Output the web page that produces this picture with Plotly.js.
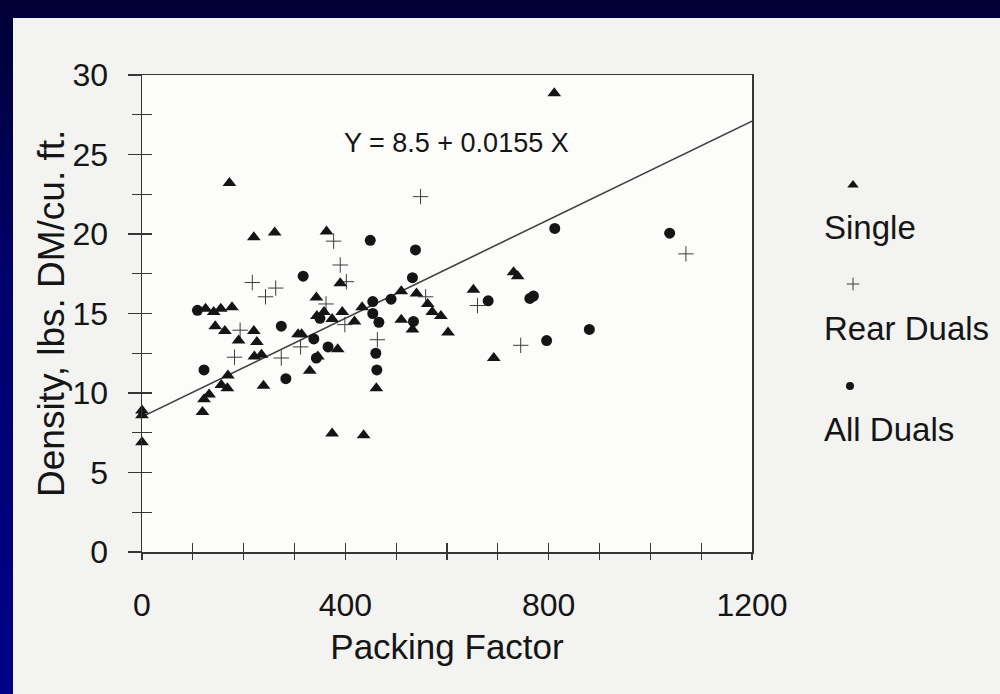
<!DOCTYPE html>
<html>
<head>
<meta charset="utf-8">
<script src="https://cdn.plot.ly/plotly-3.0.1.min.js"></script>
<style>
  html, body { margin: 0; padding: 0; }
  body {
    width: 1000px; height: 694px; overflow: hidden; position: relative;
    background: linear-gradient(to bottom, #000034 0%, #00006c 40%, #000088 100%);
  }
  #sheet {
    position: absolute; left: 13px; top: 18px; width: 987px; height: 676px;
    background: #f3f3f1;
  }
  #chart { position: absolute; left: 0; top: 0; width: 1000px; height: 694px; }
</style>
</head>
<body>
<div id="sheet"></div>
<div id="chart"></div>
<script>
// Packing factor vs. silage density, by tractor wheel configuration
const singleX = [0, 0, 0, 119, 122, 132, 125, 141, 155, 177, 172, 144, 163, 190, 220, 226,
  221, 235, 169, 156, 168, 239, 220, 261, 363, 390, 343, 358, 344, 374, 394, 433, 418,
  307, 314, 385, 346, 330, 461, 374, 436, 510, 540, 562, 571, 588, 510, 532, 602,
  652, 692, 731, 739, 811];
const singleY = [8.9, 8.6, 6.9, 8.8, 9.6, 9.9, 15.3, 15.1, 15.3, 15.4, 23.2, 14.2, 13.9, 13.3, 13.9, 13.2,
  12.3, 12.4, 11.1, 10.5, 10.3, 10.45, 19.8, 20.1, 20.15, 16.9, 16.0, 15.1, 14.85, 14.65, 15.1, 15.4, 14.5,
  13.7, 13.7, 12.75, 12.3, 11.4, 10.3, 7.45, 7.35, 16.4, 16.25, 15.6, 15.1, 14.85, 14.6, 14.0, 13.8,
  16.5, 12.2, 17.6, 17.35, 28.85];

const rearX = [217, 243, 263, 193, 182, 274, 312, 377, 390, 402, 362, 399, 463,
  548, 558, 660, 745, 1070];
const rearY = [16.95, 16.05, 16.6, 13.95, 12.25, 12.2, 12.9, 19.55, 18.05, 17.0, 15.6, 14.3, 13.35,
  22.35, 16.05, 15.5, 13.0, 18.75];

const allX = [109, 122, 274, 283, 317, 338, 343, 366, 350, 449, 454, 454, 466, 460, 462,
  490, 538, 532, 534, 681, 763, 770, 796, 812, 880, 1038];
const allY = [15.2, 11.45, 14.2, 10.9, 17.35, 13.4, 12.2, 12.9, 14.7, 19.6, 15.75, 15.0, 14.45, 12.5, 11.45,
  15.9, 19.0, 17.25, 14.5, 15.8, 15.95, 16.1, 13.3, 20.35, 14.0, 20.05];

const seriesNames = ['Single', 'Rear Duals', 'All Duals'];
const xTitle = 'Packing Factor';
const yTitle = 'Density, lbs. DM/cu. ft.';

// Fitted regression line
const intercept = 8.5;
const slope = 0.0155;
const fitX = [0, 1200];
const fitY = fitX.map(x => intercept + slope * x);

const ink = '#151515';
const axisInk = '#363636';
const font = '"Liberation Sans", Arial, sans-serif';

const symSingle = { symbol: 'triangle-up', size: 12, color: ink };
const symRear = { symbol: 'cross-thin', size: 11, color: axisInk, line: { width: 1, color: '#3c3c3c' } };
const symAll = { symbol: 'circle', size: 11, color: ink };

const keySingle = { symbol: 'triangle-up', size: 10, color: ink };
const keyRear = { symbol: 'cross-thin', size: 9, color: axisInk, line: { width: 1, color: '#3c3c3c' } };
const keyAll = { symbol: 'circle', size: 8, color: ink };

const traces = [
  { x: fitX, y: fitY, mode: 'lines', line: { color: '#404040', width: 1.6 }, hoverinfo: 'skip', showlegend: false },
  { x: rearX, y: rearY, name: seriesNames[1], mode: 'markers', marker: symRear, cliponaxis: false, showlegend: false },
  { x: singleX, y: singleY, name: seriesNames[0], mode: 'markers', marker: symSingle, cliponaxis: false, showlegend: false },
  { x: allX, y: allY, name: seriesNames[2], mode: 'markers', marker: symAll, cliponaxis: false, showlegend: false },
  // overlay pair carrying the inward half of the crossing ticks
  { x: [], y: [], xaxis: 'x3', yaxis: 'y3', showlegend: false },
  // key symbols, placed on a page-pixel overlay
  { x: [853], y: [185], xaxis: 'x2', yaxis: 'y2', mode: 'markers', marker: keySingle, cliponaxis: false, showlegend: false, hoverinfo: 'skip' },
  { x: [853], y: [284], xaxis: 'x2', yaxis: 'y2', mode: 'markers', marker: keyRear, cliponaxis: false, showlegend: false, hoverinfo: 'skip' },
  { x: [850], y: [386], xaxis: 'x2', yaxis: 'y2', mode: 'markers', marker: keyAll, cliponaxis: false, showlegend: false, hoverinfo: 'skip' }
];

const W = 1000, H = 694;
const plotL = 142, plotR = 752, plotT = 75, plotB = 552;
const xDom = [plotL / W, plotR / W];
const yDom = [(H - plotB) / H, (H - plotT) / H];

const layout = {
  width: W, height: H,
  margin: { l: 0, r: 0, t: 0, b: 0, pad: 0 },
  paper_bgcolor: 'rgba(0,0,0,0)',
  plot_bgcolor: 'rgba(0,0,0,0)',
  font: { family: font, color: ink },
  showlegend: false,
  xaxis: {
    domain: xDom, range: [0, 1200], anchor: 'y',
    tickmode: 'linear', tick0: 0, dtick: 400,
    ticks: 'outside', ticklen: 6, tickwidth: 1.3, tickcolor: axisInk,
    minor: { dtick: 100, tick0: 0, ticks: 'outside', ticklen: 6, tickwidth: 1.3, tickcolor: axisInk },
    showline: true, linecolor: axisInk, linewidth: 1.5, mirror: true,
    showgrid: false, zeroline: false,
    tickfont: { size: 32, family: font, color: ink },
    ticklabelstandoff: 18,
    title: { text: xTitle, font: { size: 35, family: font, color: ink }, standoff: 12 }
  },
  yaxis: {
    domain: yDom, range: [0, 30], anchor: 'x',
    tickmode: 'linear', tick0: 0, dtick: 5,
    ticks: 'outside', ticklen: 13, tickwidth: 1.3, tickcolor: axisInk,
    minor: { dtick: 2.5, tick0: 0, ticks: 'outside', ticklen: 9, tickwidth: 1.3, tickcolor: axisInk },
    showline: true, linecolor: axisInk, linewidth: 1.5, mirror: true,
    showgrid: false, zeroline: false,
    tickfont: { size: 32, family: font, color: ink },
    ticklabelstandoff: 13
  },
  xaxis3: {
    overlaying: 'x', anchor: 'y3', range: [0, 1200],
    tickmode: 'linear', tick0: 0, dtick: 100,
    ticks: 'inside', ticklen: 9, tickwidth: 1.3, tickcolor: axisInk,
    showticklabels: false, showline: false, showgrid: false, zeroline: false
  },
  yaxis3: {
    overlaying: 'y', anchor: 'x3', range: [0, 30],
    tickmode: 'linear', tick0: 0, dtick: 2.5,
    ticks: 'inside', ticklen: 10, tickwidth: 1.3, tickcolor: axisInk,
    showticklabels: false, showline: false, showgrid: false, zeroline: false
  },
  xaxis2: { domain: [0, 1], range: [0, W], anchor: 'y2', visible: false, fixedrange: true },
  yaxis2: { domain: [0, 1], range: [H, 0], anchor: 'x2', visible: false, fixedrange: true },
  shapes: [
    { type: 'rect', xref: 'x domain', yref: 'y domain', x0: 0, x1: 1, y0: 0, y1: 1,
      fillcolor: '#fcfcfb', line: { width: 0 }, layer: 'below' }
  ],
  annotations: [
    // vertical axis title
    { xref: 'x2', yref: 'y2', x: 51, y: 314, xanchor: 'center', yanchor: 'middle', showarrow: false,
      textangle: -90, text: yTitle, font: { size: 37, family: font, color: ink } },
    { xref: 'x2', yref: 'y2', x: 456, y: 143, xanchor: 'center', yanchor: 'middle', showarrow: false,
      text: `Y = ${intercept} + ${slope} X`, font: { size: 27, family: font, color: ink } },
    { xref: 'x2', yref: 'y2', x: 822, y: 227, xanchor: 'left', yanchor: 'middle', showarrow: false,
      text: seriesNames[0], font: { size: 33, family: font, color: ink } },
    { xref: 'x2', yref: 'y2', x: 822, y: 328, xanchor: 'left', yanchor: 'middle', showarrow: false,
      text: seriesNames[1], font: { size: 33, family: font, color: ink } },
    { xref: 'x2', yref: 'y2', x: 822, y: 429, xanchor: 'left', yanchor: 'middle', showarrow: false,
      text: seriesNames[2], font: { size: 33, family: font, color: ink } }
  ]
};

Plotly.newPlot('chart', traces, layout, { staticPlot: true, displayModeBar: false });
</script>
</body>
</html>
